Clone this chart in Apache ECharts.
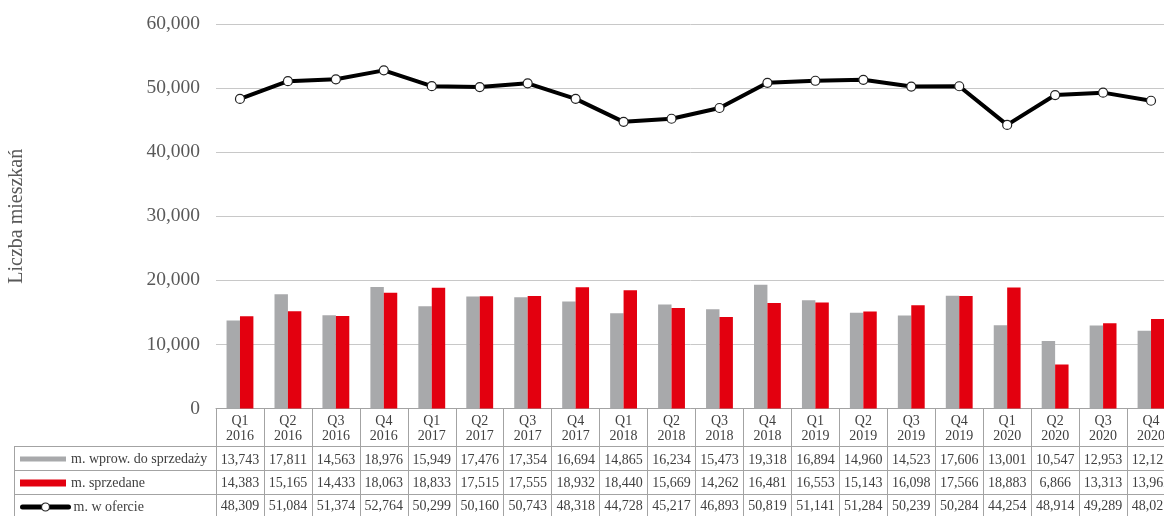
<!DOCTYPE html>
<html>
<head>
<meta charset="utf-8">
<script src="https://cdn.jsdelivr.net/npm/echarts@6/dist/echarts.min.js"></script>
<style>html,body{margin:0;padding:0;background:#fff}#c{width:1164px;height:516px}</style>
</head>
<body>
<div id="c"></div>
<script>
const categories = ['Q1\n2016','Q2\n2016','Q3\n2016','Q4\n2016','Q1\n2017','Q2\n2017','Q3\n2017','Q4\n2017','Q1\n2018','Q2\n2018','Q3\n2018','Q4\n2018','Q1\n2019','Q2\n2019','Q3\n2019','Q4\n2019','Q1\n2020','Q2\n2020','Q3\n2020','Q4\n2020'];
const introduced = [13743,17811,14563,18976,15949,17476,17354,16694,14865,16234,15473,19318,16894,14960,14523,17606,13001,10547,12953,12122];
const sold = [14383,15165,14433,18063,18833,17515,17555,18932,18440,15669,14262,16481,16553,15143,16098,17566,18883,6866,13313,13962];
const offer = [48309,51084,51374,52764,50299,50160,50743,48318,44728,45217,46893,50819,51141,51284,50239,50284,44254,48914,49289,48025];
const seriesNames = ['m. wprow. do sprzedaży','m. sprzedane','m. w ofercie'];
const yTicks = [0,10000,20000,30000,40000,50000,60000];

const fmt = v => String(v).replace(/\B(?=(\d{3})+(?!\d))/g, ',');
const serif = 'Liberation Serif';
const border = '#a3a3a3';
const txt = '#404040';

function rowAxis(offset, values, margin) {
  return {
    type: 'category', gridIndex: 0, position: 'bottom', offset: offset,
    data: categories,
    axisLine: {show: true, onZero: false, lineStyle: {color: border, width: 1}},
    axisTick: {show: true, length: 24, interval: 0, lineStyle: {color: border, width: 1}},
    axisLabel: {show: true, interval: 0, margin: margin, fontFamily: serif, fontSize: 14, color: txt,
      formatter: (v, i) => fmt(values[i])},
    splitLine: {show: false}
  };
}

function legendRow(item, top, itemHeight, extra) {
  return Object.assign({data: [item], left: 20, top: top, padding: 0, itemWidth: 46, itemHeight: itemHeight, symbolKeepAspect: true,
    textStyle: {fontFamily: serif, fontSize: 14, color: txt, lineHeight: 16}}, extra || {});
}

const chart = echarts.init(document.getElementById('c'));
chart.setOption({
  animation: false,
  backgroundColor: '#fff',
  grid: {left: 216, top: 24, width: 959, height: 384.5, containLabel: false, outerBoundsMode: 'none'},
  legend: [
    legendRow({name: seriesNames[0], icon: 'path://M0 0H46V5H0Z'}, 451, 16),
    legendRow({name: seriesNames[1], icon: 'path://M0 0H46V7H0Z'}, 475, 16),
    legendRow(seriesNames[2], 499, 10, {lineStyle: {width: 5, color: '#000', cap: 'round'}, itemStyle: {borderWidth: 1.2}})
  ],
  xAxis: [
    {
      type: 'category', gridIndex: 0, position: 'bottom', offset: 0,
      data: categories,
      axisLine: {show: true, onZero: false, lineStyle: {color: border, width: 1}},
      axisTick: {show: true, length: 38, interval: 0, lineStyle: {color: border, width: 1}},
      axisLabel: {show: true, interval: 0, margin: 6, fontFamily: serif, fontSize: 14, lineHeight: 14.5, color: txt},
      splitLine: {show: false}
    },
    rowAxis(38, introduced, 7),
    rowAxis(62, sold, 6),
    rowAxis(86, offer, 5),
    {
      type: 'category', gridIndex: 0, position: 'bottom', offset: 110, data: categories,
      axisLine: {show: true, onZero: false, lineStyle: {color: border}},
      axisTick: {show: false}, axisLabel: {show: false}
    }
  ],
  yAxis: {
    type: 'value', min: 0, max: 60000, interval: 10000,
    name: 'Liczba mieszkań', nameLocation: 'middle', nameRotate: 90, nameGap: 189,
    nameTextStyle: {fontFamily: serif, fontSize: 20, color: '#595959'},
    axisLine: {show: false}, axisTick: {show: false},
    axisLabel: {margin: 16, fontFamily: serif, fontSize: 19.5, color: '#595959', formatter: v => fmt(v)},
    splitLine: {show: true, lineStyle: {color: '#c8c8c8', width: 1}}
  },
  graphic: [
    {type: 'line', shape: {x1: 14, y1: 446.5, x2: 216, y2: 446.5}, style: {stroke: border, lineWidth: 1}, silent: true},
    {type: 'line', shape: {x1: 14, y1: 470.5, x2: 216, y2: 470.5}, style: {stroke: border, lineWidth: 1}, silent: true},
    {type: 'line', shape: {x1: 14, y1: 494.5, x2: 216, y2: 494.5}, style: {stroke: border, lineWidth: 1}, silent: true},
    {type: 'line', shape: {x1: 14.5, y1: 446.5, x2: 14.5, y2: 516}, style: {stroke: border, lineWidth: 1}, silent: true}
  ],
  series: [
    {name: seriesNames[0], type: 'bar', data: introduced, barGap: '0%', barCategoryGap: '44%',
      itemStyle: {color: '#a8a9ab'}},
    {name: seriesNames[1], type: 'bar', data: sold, barGap: '0%', barCategoryGap: '44%',
      itemStyle: {color: '#e3000f'}},
    {name: seriesNames[2], type: 'line', data: offer, symbol: 'circle', symbolSize: 9,
      lineStyle: {color: '#000', width: 4}, itemStyle: {color: '#fff', borderColor: '#222', borderWidth: 1.2},
      z: 5}
  ]
});
</script>
</body>
</html>
